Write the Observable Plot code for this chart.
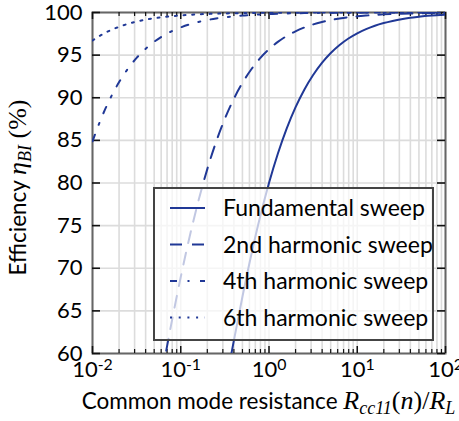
<!DOCTYPE html>
<html><head><meta charset="utf-8">
<script src="https://cdn.jsdelivr.net/npm/d3@7"></script>
<script src="https://cdn.jsdelivr.net/npm/@observablehq/plot@0.6"></script>
<style>
html,body{margin:0;padding:0;background:#fff;}
#chart{width:459px;height:421px;}
</style></head><body><div id="chart"></div>
<script>
// R_cc11(n)/R_L sample positions (log spaced)
const rValues = [0.01,0.012589,0.015849,0.019953,0.025119,0.031623,0.039811,0.050119,0.063096,0.079433,
  0.1,0.12589,0.15849,0.19953,0.25119,0.31623,0.39811,0.50119,0.63096,0.79433,
  1,1.2589,1.5849,1.9953,2.5119,3.1623,3.9811,5.0119,6.3096,7.9433,
  10,12.589,15.849,19.953,25.119,31.623,39.811,50.119,63.096,79.433,100];
// Efficiency (%) per series
const fundamental = [null,null,null,null,null,null,null,null,null,null,
  null,null,null,null,50.12,55.85,61.43,66.72,71.62,76.06,
  80.00,83.43,86.38,88.87,90.95,92.67,94.09,95.25,96.19,96.95,
  97.56,98.05,98.45,98.76,99.01,99.22,99.38,99.50,99.61,99.69,99.75];
const harmonic2 = [null,null,null,null,null,null,null,52.69,58.37,63.84,
  68.97,73.67,77.89,81.60,84.81,87.54,89.84,91.76,93.34,94.64,
  95.69,96.55,97.24,97.79,98.24,98.60,98.88,99.11,99.29,99.44,
  99.55,99.64,99.72,99.78,99.82,99.86,99.89,99.91,99.93,99.94,99.96];
const harmonic4 = [84.89,87.61,89.90,91.81,93.38,94.67,95.72,96.57,97.26,97.81,
  98.25,98.61,98.89,99.12,99.30,99.44,99.55,99.65,99.72,99.78,
  99.82,99.86,99.89,99.91,99.93,99.94,99.96,99.96,99.97,99.98,
  99.98,99.99,99.99,99.99,99.99,99.99,100.00,100.00,100.00,100.00,100.00];
const harmonic6 = [96.71,97.37,97.90,98.32,98.66,98.94,99.15,99.33,99.46,99.57,
  99.66,99.73,99.79,99.83,99.86,99.89,99.91,99.93,99.95,99.96,
  99.97,99.97,99.98,99.98,99.99,99.99,99.99,99.99,99.99,100.00,
  100.00,100.00,100.00,100.00,100.00,100.00,100.00,100.00,100.00,100.00,100.00];
const seriesNames = ["Fundamental sweep","2nd harmonic sweep","4th harmonic sweep","6th harmonic sweep"];
const xTickValues = [0.01,0.1,1,10,100];
const xTickExponents = ["-2","-1","0","1","2"];
const yTickValues = [60,65,70,75,80,85,90,95,100];

const seriesValues = [fundamental, harmonic2, harmonic4, harmonic6];
const dashes = [null, "12,10", "7,10.5,2,10.5", "2,6.7"];
const lineColor = "#203896";

const rows = [];
seriesNames.forEach((name, s) => {
  seriesValues[s].forEach((v, i) => { if (v != null) rows.push({series: name, r: rValues[i], eta: v}); });
});

const W = 459, H = 421, mL = 92, mR = 14, mT = 12, mB = 68;
const innerW = W - mL - mR, innerH = H - mT - mB;
const allXTicks = d3.scaleLog().domain([0.01, 100]).ticks();
const isMajor = v => Math.abs(Math.log10(v) - Math.round(Math.log10(v))) < 1e-6;
const minorX = allXTicks.filter(v => !isMajor(v));

const lineMarks = seriesNames.map((name, s) => Plot.line(rows.filter(d => d.series === name), {
  x: "r", y: "eta", stroke: lineColor, strokeWidth: 2,
  strokeDasharray: dashes[s] || undefined, curve: "monotone-x", clip: true
}));

const tickStroke = "#111";
const svg = Plot.plot({
  width: W, height: H,
  marginLeft: mL, marginRight: mR, marginTop: mT, marginBottom: mB,
  x: {type: "log", domain: [0.01, 100]},
  y: {domain: [60, 100]},
  style: {fontFamily: "Lato, 'DejaVu Sans', sans-serif", fontSize: "22px", color: "#000", background: "#fff", overflow: "visible"},
  marks: [
    Plot.ruleX(allXTicks, {stroke: "#dcdcdc", strokeWidth: 1.6}),
    Plot.ruleY(yTickValues, {stroke: "#dcdcdc", strokeWidth: 1.6}),
    Plot.frame({stroke: "#666", strokeWidth: 2}),
    Plot.ruleX(xTickValues, {stroke: tickStroke, strokeWidth: 1.5, insetTop: innerH - 7}),
    Plot.ruleX(minorX, {stroke: tickStroke, strokeWidth: 1.2, insetTop: innerH - 4}),
    Plot.ruleX(xTickValues, {stroke: tickStroke, strokeWidth: 1.5, insetBottom: innerH - 7}),
    Plot.ruleX(minorX, {stroke: tickStroke, strokeWidth: 1.2, insetBottom: innerH - 4}),
    Plot.ruleY(yTickValues, {stroke: tickStroke, strokeWidth: 1.6, insetRight: innerW - 8}),
    Plot.ruleY(yTickValues, {stroke: tickStroke, strokeWidth: 1.6, insetLeft: innerW - 8}),
    ...lineMarks,
    Plot.axisX(xTickValues, {tickSize: 0, tickPadding: 8, label: null,
      tickFormat: d => "10^" + xTickExponents[xTickValues.indexOf(d)]}),
    Plot.axisY(yTickValues, {tickSize: 0, tickPadding: 10, label: null})
  ]
});

const root = d3.select(svg);
// superscript exponents on the x tick labels
root.selectAll('g[aria-label="x-axis tick label"] text').each(function() {
  const parts = this.textContent.split("^");
  this.textContent = parts[0];
  d3.select(this).append("tspan").attr("dy", "-0.42em").attr("font-size", "0.72em").text(parts[1]);
});

const serif = "'Liberation Serif', 'DejaVu Serif', serif";
// x axis label
const xl = root.append("text").attr("x", mL + innerW / 2).attr("y", 409)
  .attr("text-anchor", "middle").attr("font-size", 22.5).attr("fill", "#000");
xl.append("tspan").text("Common mode resistance ");
xl.append("tspan").attr("font-family", serif).attr("font-style", "italic").attr("font-size", 26).text("R");
xl.append("tspan").attr("font-family", serif).attr("font-style", "italic").attr("font-size", 18).attr("dy", 5).text("cc11");
xl.append("tspan").attr("font-family", serif).attr("font-size", 26).attr("dy", -5).text("(");
xl.append("tspan").attr("font-family", serif).attr("font-style", "italic").attr("font-size", 26).text("n");
xl.append("tspan").attr("font-family", serif).attr("font-size", 26).text(")/");
xl.append("tspan").attr("font-family", serif).attr("font-style", "italic").attr("font-size", 26).text("R");
xl.append("tspan").attr("font-family", serif).attr("font-style", "italic").attr("font-size", 18).attr("dy", 5).text("L");

// y axis label
const yl = root.append("text").attr("transform", `translate(26,${mT + innerH / 2 + 5}) rotate(-90)`)
  .attr("text-anchor", "middle").attr("font-size", 22.5).attr("fill", "#000");
yl.append("tspan").text("Efficiency ");
yl.append("tspan").attr("font-family", serif).attr("font-style", "italic").attr("font-size", 26).text("η");
yl.append("tspan").attr("font-family", serif).attr("font-style", "italic").attr("font-size", 18).attr("dy", 5).text("BI");
yl.append("tspan").attr("font-family", serif).attr("font-size", 26).attr("dy", -5).text(" (%)");

// legend
const lg = root.append("g");
lg.append("rect").attr("x", 154).attr("y", 188).attr("width", 279).attr("height", 152)
  .attr("fill", "#fff").attr("fill-opacity", 0.72).attr("stroke", "#444").attr("stroke-width", 2);
seriesNames.forEach((name, s) => {
  const cy = 208 + s * 36.5;
  lg.append("line").attr("x1", 170).attr("x2", 205).attr("y1", cy).attr("y2", cy)
    .attr("stroke", lineColor).attr("stroke-width", 2)
    .attr("stroke-dasharray", dashes[s] || null);
  lg.append("text").attr("x", 223).attr("y", cy + 8).attr("text-anchor", "start")
    .attr("font-size", 23).attr("fill", "#000").text(name);
});

document.getElementById("chart").appendChild(svg);
</script></body></html>
